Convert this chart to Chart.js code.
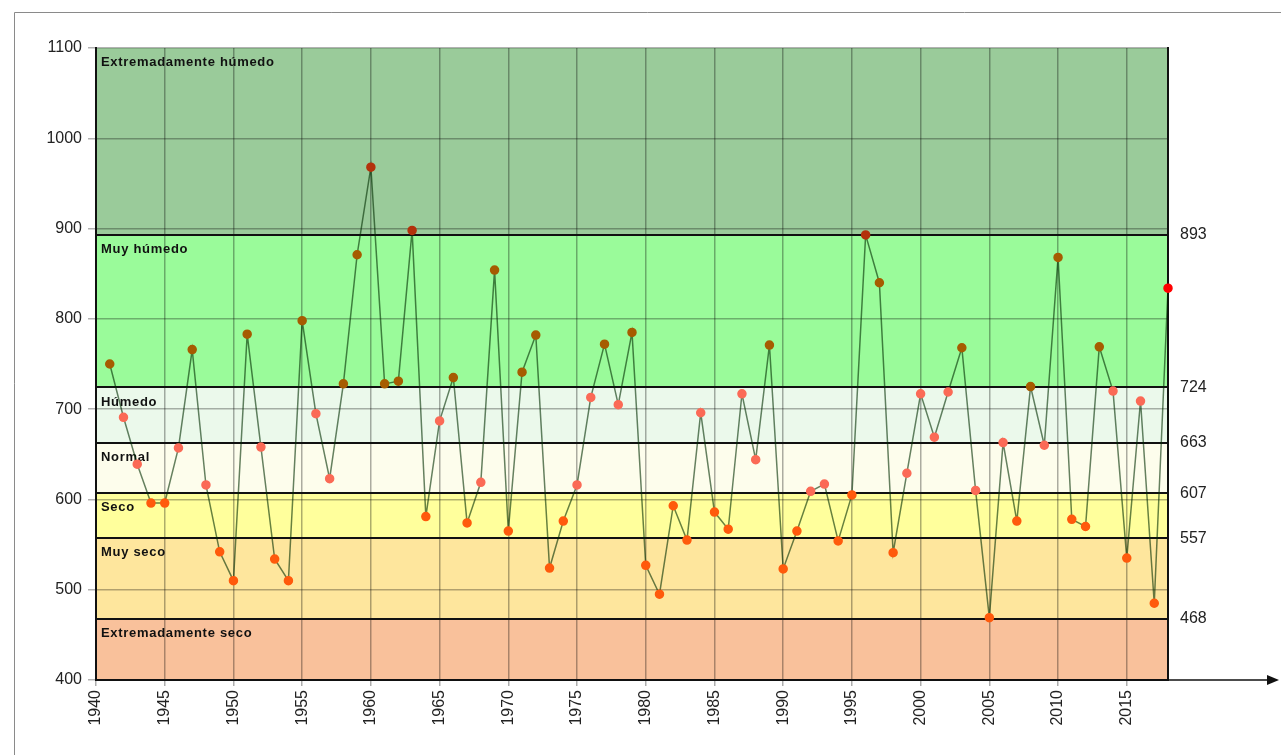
<!DOCTYPE html>
<html>
<head>
<meta charset="utf-8">
<script src="https://cdn.jsdelivr.net/npm/chart.js@4/dist/chart.umd.min.js"></script>
<style>
  html, body { margin: 0; padding: 0; background: #fff; }
  #wrap { width: 1281px; height: 755px; position: relative; }
</style>
</head>
<body>
<div id="wrap"><canvas id="lluvia" width="1281" height="755"></canvas></div>
<script>
// años y precipitación anual (mm)
const years = [1941, 1942, 1943, 1944, 1945, 1946, 1947, 1948, 1949, 1950,
  1951, 1952, 1953, 1954, 1955, 1956, 1957, 1958, 1959, 1960,
  1961, 1962, 1963, 1964, 1965, 1966, 1967, 1968, 1969, 1970,
  1971, 1972, 1973, 1974, 1975, 1976, 1977, 1978, 1979, 1980,
  1981, 1982, 1983, 1984, 1985, 1986, 1987, 1988, 1989, 1990,
  1991, 1992, 1993, 1994, 1995, 1996, 1997, 1998, 1999, 2000,
  2001, 2002, 2003, 2004, 2005, 2006, 2007, 2008, 2009, 2010,
  2011, 2012, 2013, 2014, 2015, 2016, 2017, 2018];
const rainfall = [750, 691, 639, 596, 596, 657, 766, 616, 542, 510,
  783, 658, 534, 510, 798, 695, 623, 728, 871, 968,
  728, 731, 898, 581, 687, 735, 574, 619, 854, 565,
  741, 782, 524, 576, 616, 713, 772, 705, 785, 527,
  495, 593, 555, 696, 586, 567, 717, 644, 771, 523,
  565, 609, 617, 554, 605, 893, 840, 541, 629, 717,
  669, 719, 768, 610, 469, 663, 576, 725, 660, 868,
  578, 570, 769, 720, 535, 709, 485, 834];

// umbrales de las categorías
const thresholds = [400, 468, 557, 607, 663, 724, 893, 1100];
const bandNames = ["Extremadamente seco", "Muy seco", "Seco", "Normal",
  "Húmedo", "Muy húmedo", "Extremadamente húmedo"];
const bandColors = ["#f9c19b", "#fee69d", "#ffff9c", "#fdfdec",
  "#ebf9eb", "#9afb9a", "#9acb9a"];
const rightTicks = [468, 557, 607, 663, 724, 893];

function pointColor(ctx) {
  if (ctx.dataIndex === rainfall.length - 1) return "#ff0000";
  var v = rainfall[ctx.dataIndex];
  if (v >= 893) return "#b3320c";
  if (v >= 724) return "#a65c00";
  if (v >= 607) return "#fb6a56";
  return "#ff5a0c";
}

const bandsPlugin = {
  id: "bands",
  beforeDraw(chart) {
    const ctx = chart.ctx;
    const area = chart.chartArea;
    const y = chart.scales.y;
    // marco exterior
    ctx.save();
    ctx.strokeStyle = "#8a8a8a";
    ctx.lineWidth = 1;
    ctx.beginPath();
    ctx.moveTo(14.5, 755);
    ctx.lineTo(14.5, 12.5);
    ctx.lineTo(1281, 12.5);
    ctx.stroke();
    for (let i = 0; i < bandNames.length; i++) {
      const top = y.getPixelForValue(thresholds[i + 1]);
      const bottom = y.getPixelForValue(thresholds[i]);
      ctx.fillStyle = bandColors[i];
      ctx.fillRect(area.left, top, area.right - area.left, bottom - top);
    }
    ctx.restore();
  },
  beforeDatasetsDraw(chart) {
    const ctx = chart.ctx;
    const area = chart.chartArea;
    const y = chart.scales.y;
    ctx.save();
    ctx.strokeStyle = "#111";
    ctx.lineWidth = 2;
    for (let i = 1; i < thresholds.length - 1; i++) {
      const py = Math.round(y.getPixelForValue(thresholds[i]));
      ctx.beginPath();
      ctx.moveTo(area.left, py);
      ctx.lineTo(area.right, py);
      ctx.stroke();
    }
    ctx.fillStyle = "#111";
    ctx.font = "bold 13px 'Liberation Sans', Arial, sans-serif";
    ctx.letterSpacing = "0.7px";
    ctx.textBaseline = "top";
    ctx.textAlign = "left";
    for (let i = 0; i < bandNames.length; i++) {
      const top = y.getPixelForValue(thresholds[i + 1]);
      ctx.fillText(bandNames[i], area.left + 5, top + 8);
    }
    ctx.letterSpacing = "0px";
    // flecha del eje x
    ctx.lineWidth = 1.5;
    ctx.beginPath();
    ctx.moveTo(area.right, area.bottom);
    ctx.lineTo(1270, area.bottom);
    ctx.stroke();
    ctx.beginPath();
    ctx.moveTo(1279, area.bottom);
    ctx.lineTo(1267, area.bottom - 5);
    ctx.lineTo(1267, area.bottom + 5);
    ctx.closePath();
    ctx.fill();
    ctx.restore();
  },
};

const points = years.map((yr, i) => ({ x: yr, y: rainfall[i] }));

new Chart(document.getElementById("lluvia").getContext("2d"), {
  type: "line",
  data: {
    datasets: [
      {
        label: "Precipitación",
        data: points,
        borderColor: "rgba(0, 45, 0, 0.6)",
        borderWidth: 1.5,
        pointBackgroundColor: pointColor,
        pointBorderColor: pointColor,
        pointRadius: 4,
        pointHoverRadius: 4,
        tension: 0,
        clip: false,
      },
    ],
  },
  options: {
    responsive: false,
    animation: false,
    layout: { padding: { top: 48, left: 0, right: 0, bottom: 0 } },
    plugins: {
      legend: { display: false },
      tooltip: { enabled: false },
    },
    scales: {
      x: {
        type: "linear",
        min: 1940,
        max: 2018,
        afterBuildTicks: (scale) => {
          scale.ticks = [];
          for (let v = 1940; v <= 2015; v += 5) scale.ticks.push({ value: v });
        },
        afterFit: (scale) => { scale.height = 75; },
        ticks: {
          minRotation: 90,
          maxRotation: 90,
          color: "#222",
          padding: 4,
          font: { family: "'Liberation Sans', Arial, sans-serif", size: 16 },
          callback: (v) => String(v),
        },
        grid: {
          color: "rgba(0, 0, 0, 0.32)",
          lineWidth: 1.5,
          tickLength: 6,
        },
        border: { color: "#111", width: 2 },
      },
      y: {
        position: "left",
        min: 400,
        max: 1100,
        afterFit: (scale) => { scale.width = 96; },
        ticks: {
          stepSize: 100,
          color: "#222",
          padding: 6,
          font: { family: "'Liberation Sans', Arial, sans-serif", size: 16 },
          callback: (v) => String(v),
        },
        grid: {
          color: "rgba(0, 0, 0, 0.3)",
          lineWidth: 1.5,
          tickLength: 8,
        },
        border: { color: "#111", width: 2 },
      },
      y2: {
        position: "right",
        min: 400,
        max: 1100,
        afterBuildTicks: (scale) => {
          scale.ticks = rightTicks.map((v) => ({ value: v }));
        },
        afterFit: (scale) => { scale.width = 113; },
        ticks: {
          color: "#222",
          padding: 12,
          font: { family: "'Liberation Sans', Arial, sans-serif", size: 16 },
          callback: (v) => String(v),
        },
        grid: { display: false, drawTicks: false },
        border: { color: "#111", width: 2 },
      },
    },
  },
  plugins: [bandsPlugin],
});
</script>
</body>
</html>
